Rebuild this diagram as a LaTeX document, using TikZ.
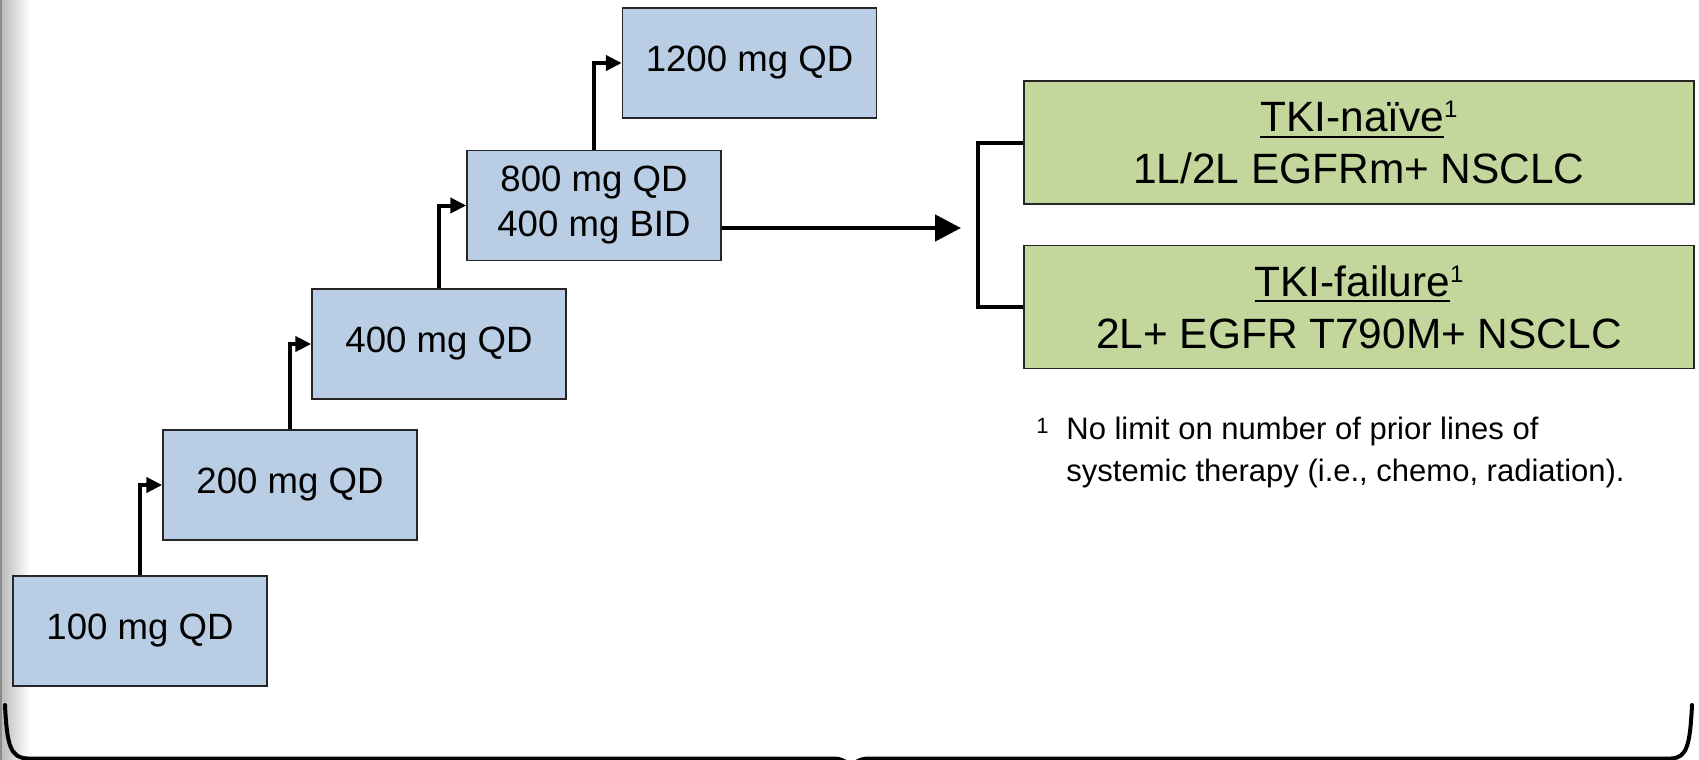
\documentclass[tikz,border=0pt]{standalone}
\usepackage{fontspec}
\setmainfont{Liberation Sans}
\usetikzlibrary{arrows.meta,calc}
\definecolor{boxblue}{HTML}{B9CDE5}
\definecolor{boxgreen}{HTML}{C3D69B}
\newsavebox\myulbox
\newcommand\myul[1]{\sbox\myulbox{#1}\rlap{\rule[-3.1pt]{\wd\myulbox}{1.1pt}}\usebox\myulbox}
\newcommand\mysup[2]{\raisebox{#2}{\fontsize{#1}{#1}\selectfont 1}}
\begin{document}
\begin{tikzpicture}[x=0.5pt,y=-0.5pt,
  dose/.style={draw=black!85, line width=0.7pt, fill=boxblue, minimum width=127pt, minimum height=55pt, inner sep=0pt, align=center, font=\fontsize{18.3}{22.5}\selectfont},
  pop/.style={draw=black!85, line width=0.7pt, fill=boxgreen, minimum width=335pt, minimum height=61.5pt, inner sep=0pt, align=center, font=\fontsize{21.2}{26}\selectfont},
  stepar/.style={line width=2pt, -{Triangle[length=8pt,width=7.5pt]}},
  mainar/.style={line width=2.3pt, -{Triangle[length=13pt,width=13pt]}},
  link/.style={line width=2pt},
  bracepath/.style={line width=2pt, line cap=round}]
\useasboundingbox (0,0) rectangle (1699,760);
\clip (0,0) rectangle (1699,760);
\fill[white] (0,0) rectangle (1699,760);
\shade[left color=black!28, right color=white] (0,0) rectangle (30,760);
\fill[black!45] (0,0) rectangle (2,760);

% dose boxes
\node[dose] (b100) at (140,631) {100 mg QD};
\node[dose] (b200) at (290,485) {200 mg QD};
\node[dose] (b400) at (439,344) {400 mg QD};
\node[dose] (b800) at (594,205.5) {800 mg QD\\400 mg BID};
\node[dose] (b1200) at (749.5,63) {1200 mg QD};

% escalation arrows
\draw[stepar] (b100.north) |- (b200.west);
\draw[stepar] (b200.north) |- (b400.west);
\draw[stepar] (b400.north) |- (b800.west);
\draw[stepar] (b800.north) |- (b1200.west);

% populations
\node[pop] (g1) at (1359,142.5) {\myul{TKI-naïve}\mysup{12}{7pt}\\1L/2L EGFRm+ NSCLC};
\node[pop] (g2) at (1359,307) {\myul{TKI-failure}\mysup{12}{7pt}\\2L+ EGFR T790M+ NSCLC};

% main arrow
\coordinate (mtip) at (961,228);
\draw[mainar] ([yshift=-11.25pt]b800.east) -- (mtip);

% bracket
\draw[link] (g1.west) -- ++(-45,0) |- (g2.west);

% footnote
\node[anchor=north west, inner sep=0pt, font=\fontsize{11}{12}\selectfont] (fnmark) at (1036,418) {1};
\node[anchor=north west, inner sep=0pt, align=left, font=\fontsize{15.5}{20.75}\selectfont] (fntext) at (1066,417) {No limit on number of prior lines of\\systemic therapy (i.e., chemo, radiation).};

% bottom brace
\draw[bracepath] (5,705) .. controls (7,745) and (10,758) .. (28,758.5) -- (832,758.5)
  .. controls (843,758.5) and (849,762) .. (851,772)
  .. controls (853,762) and (859,758.5) .. (870,758.5) -- (1671,758.5)
  .. controls (1687,758) and (1690,745) .. (1692,705);
\end{tikzpicture}
\end{document}
